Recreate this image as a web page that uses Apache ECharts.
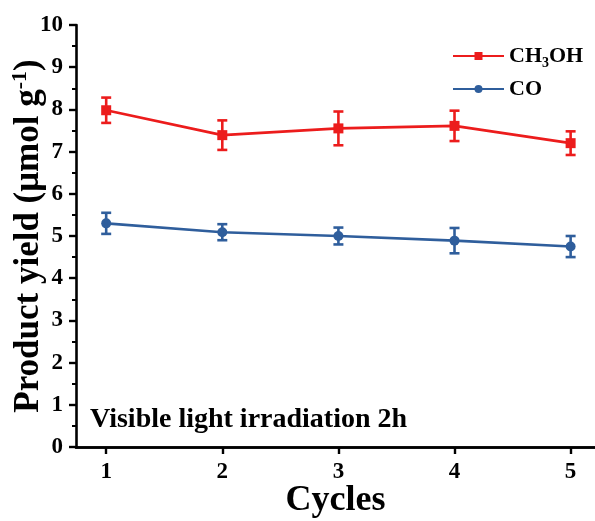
<!DOCTYPE html>
<html>
<head>
<meta charset="utf-8">
<script src="https://cdn.jsdelivr.net/npm/echarts@6/dist/echarts.min.js"></script>
<style>
  html, body { margin: 0; padding: 0; background: #fff; }
  #chart { width: 595px; height: 521px; }
</style>
</head>
<body>
<div id="chart"></div>
<script>
// Photocatalytic yield over repeated cycles
const cycles = [1, 2, 3, 4, 5];
const cycleTicks = [1, 2, 3, 4, 5];
const ch3oh = [7.98, 7.39, 7.55, 7.61, 7.20];
const ch3ohErr = [0.30, 0.35, 0.40, 0.36, 0.28];
const co = [5.30, 5.09, 5.00, 4.89, 4.75];
const coErr = [0.25, 0.19, 0.20, 0.30, 0.25];

const RED = '#ec1c1c';
const BLUE = '#2f5e9c';
const FONT = '"Liberation Serif", "Times New Roman", serif';

const points = (vals) => cycles.map((c, i) => [c, vals[i]]);
const bars = (vals, errs) => cycles.map((c, i) => [c, vals[i] - errs[i], vals[i] + errs[i]]);

function errorBars(color) {
  return function (params, api) {
    const x = api.value(0);
    const lo = api.coord([x, api.value(1)]);
    const hi = api.coord([x, api.value(2)]);
    const hw = 5;
    const st = { stroke: color, lineWidth: 2.6 };
    return {
      type: 'group',
      children: [
        { type: 'line', shape: { x1: hi[0], y1: hi[1], x2: lo[0], y2: lo[1] }, style: st },
        { type: 'line', shape: { x1: hi[0] - hw, y1: hi[1], x2: hi[0] + hw, y2: hi[1] }, style: st },
        { type: 'line', shape: { x1: lo[0] - hw, y1: lo[1], x2: lo[0] + hw, y2: lo[1] }, style: st }
      ]
    };
  };
}

const chart = echarts.init(document.getElementById('chart'));
chart.setOption({
  backgroundColor: '#fff',
  animation: false,
  grid: { left: 76, right: 0, top: 25, bottom: 74, containLabel: false, outerBoundsMode: 'none' },
  legend: {
    left: 452, top: 42, padding: 0,
    orient: 'vertical',
    itemWidth: 51, itemHeight: 10, itemGap: 8,
    data: ['CH3OH', 'CO'],
    formatter: (name) => name === 'CH3OH' ? '{a|CH}{s|3}{a|OH}' : '{a|CO}',
    textStyle: {
      rich: {
        a: { fontFamily: FONT, fontWeight: 'bold', fontSize: 22, lineHeight: 24, color: '#000' },
        s: { fontFamily: FONT, fontWeight: 'bold', fontSize: 14, lineHeight: 12, color: '#000', padding: [14, 0, 0, 0] }
      }
    }
  },
  xAxis: [{
    type: 'value', min: 0.74, max: 5.21,
    name: 'Cycles', nameLocation: 'middle', nameGap: 36, nameMoveOverlap: false,
    nameTextStyle: { fontFamily: FONT, fontWeight: 'bold', fontSize: 36, color: '#000' },
    axisLine: { show: true, onZero: false, lineStyle: { color: '#000', width: 2.6 } },
    axisTick: { show: true, inside: false, length: 7, customValues: cycleTicks, lineStyle: { color: '#000', width: 2.4 } },
    axisLabel: { customValues: cycleTicks, margin: 14, fontFamily: FONT, fontWeight: 'bold', fontSize: 23, color: '#000' },
    splitLine: { show: false }
  }, {
    type: 'value', min: 0.74, max: 5.21, position: 'top',
    axisLine: { show: true, lineStyle: { color: '#000', width: 2.6 } },
    axisTick: { show: false }, axisLabel: { show: false }, splitLine: { show: false }
  }],
  yAxis: {
    type: 'value', min: 0, max: 10, interval: 1,
    name: '{t|Product yield (μmol g}{s|-1}{t|)}',
    nameLocation: 'middle', nameGap: 27, nameRotate: 90, nameMoveOverlap: false,
    nameTextStyle: {
      rich: {
        t: { fontFamily: FONT, fontWeight: 'bold', fontSize: 35, color: '#000' },
        s: { fontFamily: FONT, fontWeight: 'bold', fontSize: 22, color: '#000', padding: [0, 0, 18, 0] }
      }
    },
    axisLine: { show: true, lineStyle: { color: '#000', width: 2.6 } },
    axisTick: { show: true, inside: false, length: 7, lineStyle: { color: '#000', width: 2.4 } },
    minorTick: { show: true, splitNumber: 2, length: 4, lineStyle: { color: '#000', width: 2 } },
    axisLabel: { margin: 13, fontFamily: FONT, fontWeight: 'bold', fontSize: 23, color: '#000' },
    splitLine: { show: false }
  },
  graphic: [{
    type: 'text', left: 90, top: 406,
    style: { text: 'Visible light irradiation 2h', font: 'bold 28px ' + FONT, fill: '#000' }
  }],
  series: [
    {
      name: 'CH3OH', type: 'line', data: points(ch3oh),
      symbol: 'rect', symbolSize: 10,
      itemStyle: { color: RED }, lineStyle: { color: RED, width: 2.6 },
      z: 3
    },
    {
      name: 'CO', type: 'line', data: points(co),
      symbol: 'circle', symbolSize: 10,
      itemStyle: { color: BLUE }, lineStyle: { color: BLUE, width: 2.6 },
      z: 3
    },
    {
      type: 'custom', data: bars(ch3oh, ch3ohErr),
      renderItem: errorBars(RED), encode: { x: 0, y: [1, 2] }, z: 4
    },
    {
      type: 'custom', data: bars(co, coErr),
      renderItem: errorBars(BLUE), encode: { x: 0, y: [1, 2] }, z: 4
    }
  ]
});
</script>
</body>
</html>
